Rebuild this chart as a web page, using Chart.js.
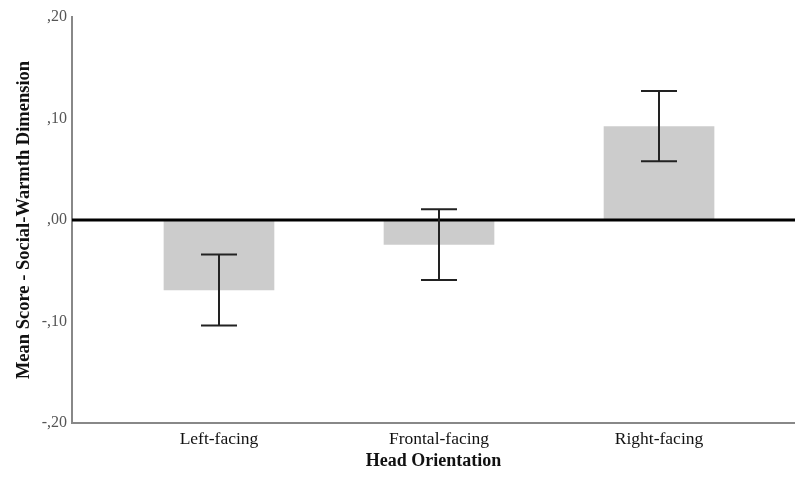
<!DOCTYPE html>
<html>
<head>
<meta charset="utf-8">
<script src="https://cdn.jsdelivr.net/npm/chart.js@4"></script>
<style>
  html, body { margin: 0; padding: 0; background: #fff; }
  #wrap { width: 795px; height: 482px; }
</style>
</head>
<body>
<div id="wrap"><canvas id="chart"></canvas></div>
<script>
const categories = ['Left-facing', 'Frontal-facing', 'Right-facing'];
const positions = [1, 2, 3];
const means = [-0.069, -0.024, 0.092];
const errLow = [-0.104, -0.059, 0.058];
const errHigh = [-0.034, 0.0105, 0.127];
const yTicks = [-0.2, -0.1, 0, 0.1, 0.2];

const serif = '"Liberation Serif", "Times New Roman", serif';

function commaFormat(v) {
  if (Math.abs(v) < 1e-9) return ',00';
  return v.toFixed(2).replace('0.', ',');
}

// zero line + error bars on top of the bars
const errorBars = {
  id: 'errorBars',
  afterDatasetsDraw(chart) {
    const { ctx, scales: { x, y }, chartArea } = chart;
    ctx.save();
    ctx.strokeStyle = '#000';
    ctx.lineWidth = 3;
    ctx.beginPath();
    ctx.moveTo(chartArea.left, y.getPixelForValue(0));
    ctx.lineTo(chartArea.right, y.getPixelForValue(0));
    ctx.stroke();

    ctx.strokeStyle = '#222';
    ctx.lineWidth = 2;
    positions.forEach((p, i) => {
      const cx = Math.round(x.getPixelForValue(p));
      const top = y.getPixelForValue(errHigh[i]);
      const bot = y.getPixelForValue(errLow[i]);
      ctx.beginPath();
      ctx.moveTo(cx, top);
      ctx.lineTo(cx, bot);
      ctx.moveTo(cx - 18, top);
      ctx.lineTo(cx + 18, top);
      ctx.moveTo(cx - 18, bot);
      ctx.lineTo(cx + 18, bot);
      ctx.stroke();
    });
    ctx.restore();
  }
};

new Chart(document.getElementById('chart'), {
  type: 'bar',
  data: {
    datasets: [{
      data: positions.map((p, i) => ({ x: p, y: means[i] })),
      backgroundColor: '#cccccc',
      borderWidth: 0,
      barThickness: 110
    }]
  },
  options: {
    responsive: true,
    maintainAspectRatio: false,
    animation: false,
    layout: { padding: { top: 17, right: 0, bottom: 0, left: 0 } },
    plugins: { legend: { display: false }, tooltip: { enabled: false } },
    scales: {
      x: {
        type: 'linear',
        offset: false,
        min: 0.332,
        max: 3.618,
        afterBuildTicks: scale => { scale.ticks = positions.map(v => ({ value: v })); },
        afterFit: scale => { scale.height = 59; },
        grid: { display: false, drawTicks: false },
        border: { display: true, color: '#888', width: 2 },
        ticks: {
          padding: 6,
          color: '#111',
          autoSkip: false,
          maxRotation: 0,
          font: { family: serif, size: 17.5 },
          callback: v => categories[positions.indexOf(v)] || ''
        },
        title: {
          display: true,
          text: 'Head Orientation',
          color: '#111',
          font: { family: serif, size: 18, weight: 'bold' },
          padding: { top: 0, bottom: 10 }
        }
      },
      y: {
        min: -0.2,
        max: 0.2,
        afterBuildTicks: scale => { scale.ticks = yTicks.map(v => ({ value: v })); },
        afterFit: scale => { scale.width = 72; },
        grid: { display: false, drawTicks: false },
        border: { display: true, color: '#888', width: 2 },
        ticks: {
          padding: 5,
          color: '#555',
          font: { family: serif, size: 16 },
          callback: v => commaFormat(v)
        },
        title: {
          display: true,
          text: 'Mean Score - Social-Warmth Dimension',
          color: '#111',
          font: { family: serif, size: 18.5, weight: 'bold' },
          padding: { top: 13, bottom: 0 }
        }
      }
    }
  },
  plugins: [errorBars]
});
</script>
</body>
</html>
